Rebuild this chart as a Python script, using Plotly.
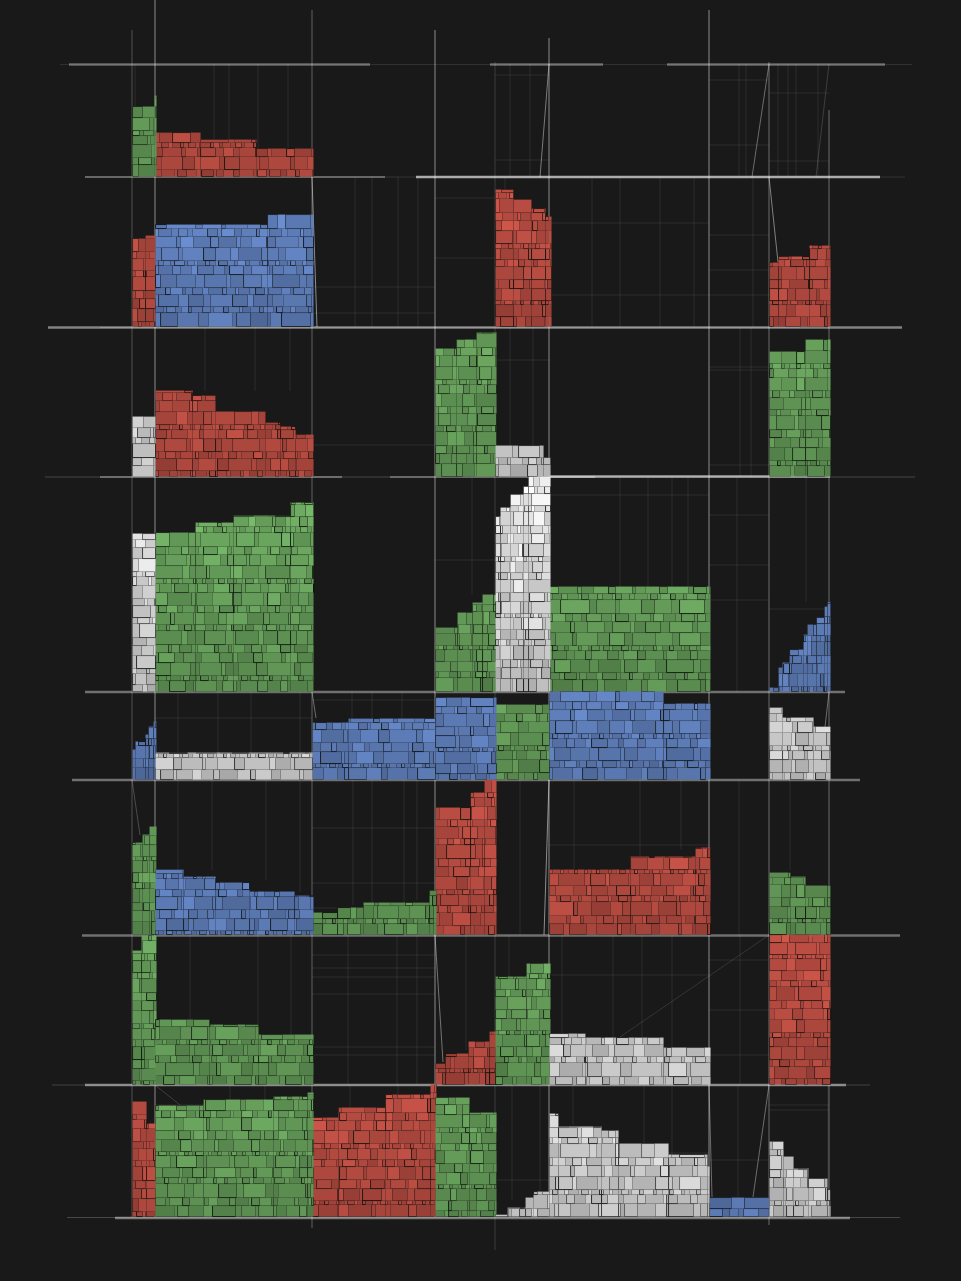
import plotly.graph_objects as go

PAGE_W = 961
PAGE_H = 1281
BACKGROUND = "#191919"

# ---- chart structure ----
COL_START = 132.8
COL_WIDTHS = [23, 157, 123, 60, 54, 160, 60, 61]
ROW_BASELINES = [177, 327, 477, 692, 780, 935, 1085, 1217]

SERIES_RGB = {
    "Red": (178, 74, 64),
    "Green": (97, 150, 86),
    "Blue": (94, 125, 184),
    "White": (204, 204, 204),
}

# each cell: (column index, series, [(step end within the column, step height), ...])
ROW_0 = [
    (0, "Green", [(22, 70), (24, 81)]),
    (1, "Red", [(45, 44), (101, 37), (158, 28)]),
]
ROW_1 = [
    (0, "Red", [(13, 88), (23, 91)]),
    (1, "Blue", [(112, 102), (158, 112)]),
    (4, "Red", [(18, 137), (36, 127), (50, 118), (56, 110)]),
    (7, "Red", [(9, 64), (40, 70), (61, 81)]),
]
ROW_2 = [
    (0, "White", [(23, 60)]),
    (1, "Red", [(37, 86), (60, 81), (110, 65), (125, 54), (140, 50), (158, 42)]),
    (3, "Green", [(21, 128), (41, 137), (61, 144)]),
    (4, "White", [(48, 31), (55, 19)]),
    (7, "Green", [(36, 125), (61, 137)]),
]
ROW_3 = [
    (0, "White", [(23, 158)]),
    (1, "Green", [(40, 159), (78, 169), (135, 176), (158, 189)]),
    (3, "Green", [(22, 64), (37, 79), (47, 89), (61, 97)]),
    (4, "White", [(5, 175), (15, 184), (28, 197), (33, 205), (55, 215)]),
    (5, "Green", [(161, 105)]),
    (7, "Blue", [(9, 4), (13, 24), (20, 29), (34, 42), (38, 57), (47, 67), (55, 74), (58, 85), (61, 90)]),
]
ROW_4 = [
    (0, "Blue", [(3, 30), (13, 38), (16, 45), (21, 53), (24, 58)]),
    (1, "White", [(157, 27)]),
    (2, "Blue", [(36, 57), (123, 61)]),
    (3, "Blue", [(61, 82)]),
    (4, "Green", [(54, 75)]),
    (5, "Blue", [(114, 88), (161, 76)]),
    (7, "White", [(13, 72), (44, 62), (61, 53)]),
]
ROW_5 = [
    (0, "Green", [(10, 92), (17, 100), (24, 108)]),
    (1, "Blue", [(28, 65), (60, 58), (94, 52), (139, 43), (158, 39)]),
    (2, "Green", [(25, 22), (51, 27), (117, 32), (124, 44)]),
    (3, "Red", [(35, 127), (49, 142), (61, 155)]),
    (5, "Red", [(81, 65), (146, 78), (161, 87)]),
    (7, "Green", [(21, 62), (36, 58), (61, 49)]),
]
ROW_6 = [
    (0, "Green", [(9, 134), (24, 149)]),
    (1, "Green", [(54, 65), (103, 60), (158, 50)]),
    (3, "Red", [(10, 21), (33, 31), (54, 43), (61, 53)]),
    (4, "Green", [(31, 108), (55, 121)]),
    (5, "White", [(36, 51), (114, 47), (161, 37)]),
    (7, "Red", [(61, 150)]),
]
ROW_7 = [
    (0, "Red", [(14, 115), (23, 93)]),
    (1, "Green", [(48, 111), (118, 117), (152, 120), (158, 124)]),
    (2, "Red", [(26, 99), (73, 109), (118, 122), (124, 132)]),
    (3, "Green", [(34, 119), (61, 104)]),
    (4, "White", [(12, 2), (30, 9), (38, 19), (54, 25)]),
    (5, "White", [(9, 103), (52, 90), (69, 86), (119, 73), (158, 62), (160, 50)]),
    (6, "Blue", [(60, 19)]),
    (7, "White", [(14, 75), (24, 60), (39, 48), (58, 38), (61, 27)]),
]
ROWS = [ROW_0, ROW_1, ROW_2, ROW_3, ROW_4, ROW_5, ROW_6, ROW_7]

# ---- rules of the frame ----
# (x, top, bottom, alpha)
COLUMN_RULES = [
    (132, 30, 1217, .24), (155, 0, 1217, .50), (312, 10, 1228, .32),
    (435, 30, 1217, .50), (495, 62, 1250, .15), (549, 38, 1217, .50),
    (709, 10, 1217, .50), (769, 62, 1225, .36), (829, 110, 1217, .36),
]
# (y, left, right, alpha, width)
ROW_RULES = [
    (64.5, 60, 912, .10, 1), (64.5, 69, 370, .34, 2.5), (64.5, 490, 603, .34, 2.5), (64.5, 667, 885, .34, 2.5),
    (177, 85, 905, .12, 1), (177, 85, 385, .30, 2), (177, 416, 880, .62, 2.5),
    (327.5, 48, 902, .46, 2.5), (327.5, 100, 800, .18, 1),
    (477, 45, 915, .20, 1), (477, 100, 342, .30, 2), (477, 390, 595, .28, 2), (476.5, 550, 830, .62, 2.5),
    (692, 85, 845, .38, 2.5), (780, 72, 860, .38, 2.5),
    (935.5, 82, 900, .38, 2.5), (1085, 52, 870, .18, 1), (1085, 85, 846, .46, 2.5),
    (1217.5, 67, 900, .20, 1), (1218, 115, 850, .42, 2.5),
]
# (x0, y0, x1, y1, alpha)
SLANT_RULES = [
    (540, 177, 549, 64, .42), (752, 177, 769, 64, .36), (816, 177, 829, 64, .16),
    (312, 177, 317, 327, .50), (769, 177, 778, 262, .45), (312, 692, 316, 718, .36),
    (132, 780, 140, 835, .22), (549, 780, 544, 935, .50), (435, 935, 443, 1062, .40),
    (709, 1085, 712, 1197, .36), (769, 1085, 753, 1197, .36), (829, 692, 825, 727, .36),
    (769, 935, 620, 1037, .12), (155, 1085, 180, 1105, .16),
]
# faint cell grids: (x, top, bottom) and (y, left, right)
GRID_VERTICAL = [
    (214, 64, 177), (229, 64, 177), (258, 64, 177), (288, 64, 177), (135, 64, 177),
    (510, 64, 177), (530, 64, 177), (739, 64, 177), (746, 64, 177), (778, 64, 177),
    (788, 64, 177), (796, 64, 177), (818, 64, 177),
    (355, 177, 327), (372, 177, 327), (398, 177, 327), (418, 177, 327), (505, 177, 190),
    (592, 177, 327), (620, 177, 327), (660, 177, 327), (694, 177, 327), (753, 177, 327),
    (205, 327, 391), (255, 327, 391), (290, 327, 391), (740, 327, 477), (751, 327, 477), (510, 327, 446), (533, 327, 446),
    (620, 477, 587), (648, 477, 587), (672, 477, 587), (688, 477, 587), (472, 477, 595), (737, 477, 692), (806, 477, 602),
    (178, 692, 753), (218, 692, 753), (251, 692, 753), (300, 692, 753), (352, 692, 720), (372, 692, 720), (402, 692, 720),
    (178, 780, 870), (212, 780, 870), (266, 780, 880), (300, 780, 892), (353, 780, 905), (372, 780, 905), (404, 780, 905), (417, 780, 900),
    (520, 780, 935), (574, 780, 870), (640, 780, 860), (681, 780, 850), (739, 780, 935), (790, 780, 870),
    (190, 935, 1020), (258, 935, 1025), (291, 935, 1035), (348, 935, 1085), (397, 935, 1085), (417, 935, 1085),
    (466, 935, 1050), (509, 935, 977), (562, 935, 1034), (613, 935, 1038), (642, 935, 1038), (672, 935, 1048), (740, 935, 1085),
    (512, 1085, 1200), (540, 1085, 1190), (573, 1085, 1125), (644, 1085, 1144), (672, 1085, 1155), (738, 1085, 1197),
    (230, 1085, 1100), (265, 1085, 1100), (350, 1085, 1108), (398, 1085, 1095), (828, 1085, 1217),
]
GRID_HORIZONTAL = [
    (75, 495, 549), (160, 495, 549), (80, 709, 769), (145, 709, 769), (93, 769, 829), (161, 769, 829),
    (198, 435, 495), (258, 435, 495), (287, 312, 435), (313, 312, 435), (223, 549, 709), (295, 549, 709),
    (235, 709, 769), (270, 709, 769), (295, 709, 769),
    (370, 709, 769), (367, 709, 769), (465, 709, 769), (466, 495, 549), (360, 495, 549), (445, 312, 435),
    (515, 709, 769), (565, 709, 769), (600, 709, 769), (609, 769, 829), (560, 435, 495), (495, 549, 709),
    (718, 155, 312), (700, 312, 435), (828, 312, 435), (883, 312, 435), (908, 312, 435), (845, 549, 709),
    (955, 312, 435), (968, 312, 435), (977, 312, 435), (994, 312, 435), (1047, 312, 435), (1055, 312, 435),
    (975, 549, 709), (960, 709, 769), (1010, 709, 769), (1055, 709, 769), (1105, 769, 829), (1110, 769, 829),
    (1153, 549, 709), (1180, 495, 549), (1160, 709, 769), (1105, 155, 312),
]

# ---- brick texture (style only; not chart values) ----
COURSE_HEIGHTS = [12, 7, 13, 9, 5, 13, 11, 8, 14, 6, 10, 12, 4, 12, 9, 13, 7, 11, 5, 13, 10, 8, 14, 6]
BRICK_FACTORS = [1.3, .5, 1.6, .9, 1.9, .4, 1.2, 1.5, .7, 1.7, .3, 1.0, 1.4, .8, 2.1, .5, 1.3, .3, 1.6, .9, 1.2, .6, 1.8]
BRICK_SHADES = [.99, 1.05, .94, 1.02, 1.10, .91, 1.0, .96, 1.07, .93, 1.03, .98, 1.13, .95, 1.01, .90, 1.06, .97, 1.08, .92, 1.0, 1.04, .95, 1.11, .94, .99, 1.02]
BRICK_EDGES = [0, .40, 0, .12, .70, 0, .25, 0, 0, .50, .08, 0, .85, 0, .20, 0, .35, 0, .05, .60]
EDGE_WIDTH = 0.9


def shaded(rgb, factor):
    return "rgb(%d,%d,%d)" % tuple(min(255, int(c * factor)) for c in rgb)


col_left = [COL_START]
for w in COL_WIDTHS:
    col_left.append(col_left[-1] + w)

bricks = {name: dict(x=[], w=[], base=[], h=[], color=[], edge=[]) for name in SERIES_RGB}
counter = 0
for row_index, row in enumerate(ROWS):
    baseline = PAGE_H - ROW_BASELINES[row_index]
    for col, name, steps in row:
        left = col_left[col]
        tallest = max(h for _, h in steps)
        right = left + steps[-1][0]
        course_no = counter
        level = 0
        while level < tallest:
            course = COURSE_HEIGHTS[course_no % len(COURSE_HEIGHTS)]
            course_no += 1
            pos = left
            while pos < right:
                counter += 1
                factor = BRICK_FACTORS[counter % len(BRICK_FACTORS)]
                width = max(3, course * factor)
                end = min(right, pos + width)
                prev = 0
                for step_end, step_h in steps:
                    seg0 = max(pos, left + prev)
                    seg1 = min(end, left + step_end)
                    prev = step_end
                    if seg1 <= seg0 or level >= step_h:
                        continue
                    height = min(course, step_h - level)
                    frac = level / 200
                    shade = BRICK_SHADES[counter % len(BRICK_SHADES)] * (.92 + .22 * frac)
                    alpha = BRICK_EDGES[counter % len(BRICK_EDGES)]
                    b = bricks[name]
                    b["x"].append((seg0 + seg1) / 2)
                    b["w"].append(seg1 - seg0)
                    b["base"].append(baseline + level)
                    b["h"].append(height)
                    b["color"].append(shaded(SERIES_RGB[name], shade))
                    b["edge"].append("rgba(10,14,10,%.2f)" % alpha)
                pos = end
            level += course

fig = go.Figure()
for name, b in bricks.items():
    fig.add_trace(go.Bar(
        name=name, x=b["x"], y=b["h"], base=b["base"], width=b["w"],
        marker=dict(color=b["color"], line=dict(color=b["edge"], width=EDGE_WIDTH)),
    ))


def rule(x0, y0, x1, y1, alpha, width=1):
    return dict(
        type="line", layer="below", xref="x", yref="y",
        x0=x0, x1=x1, y0=PAGE_H - y0, y1=PAGE_H - y1,
        line=dict(color="rgba(255,255,255,%.2f)" % alpha, width=width),
    )


shapes = []
for x, t, b in GRID_VERTICAL:
    shapes.append(rule(x, t, x, b, .08))
for y, l, r in GRID_HORIZONTAL:
    shapes.append(rule(l, y, r, y, .09))
for x, t, b, a in COLUMN_RULES:
    shapes.append(rule(x, t, x, b, a))
for x0, y0, x1, y1, a in SLANT_RULES:
    shapes.append(rule(x0, y0, x1, y1, a))
for y, l, r, a, w in ROW_RULES:
    shapes.append(rule(l, y, r, y, a, w))

fig.update_layout(
    width=PAGE_W, height=PAGE_H, autosize=False,
    margin=dict(l=0, r=0, t=0, b=0),
    paper_bgcolor=BACKGROUND, plot_bgcolor=BACKGROUND,
    barmode="overlay", bargap=0, showlegend=False,
    xaxis=dict(range=[0, PAGE_W], visible=False, fixedrange=True),
    yaxis=dict(range=[0, PAGE_H], visible=False, fixedrange=True),
    shapes=shapes,
)
fig.write_html(
    "out.html",
    config={"displayModeBar": False},
    post_script="document.body.style.margin='0';document.body.style.background='%s';" % BACKGROUND,
)
